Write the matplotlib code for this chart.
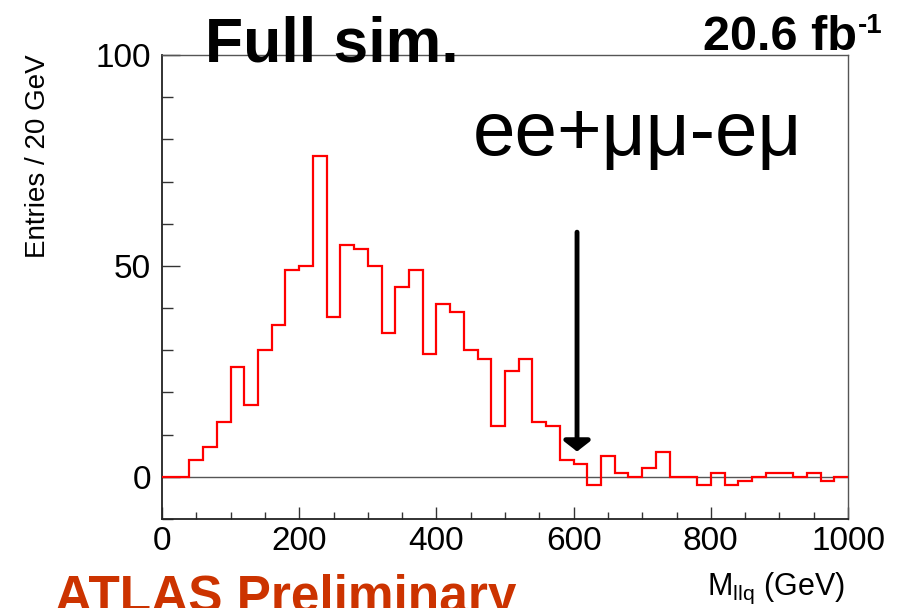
import numpy as np
import matplotlib
matplotlib.use("Agg")
import matplotlib.pyplot as plt
from matplotlib.ticker import MultipleLocator

plt.rcParams['font.family'] = ['Liberation Sans', 'DejaVu Sans']
plt.rcParams['mathtext.fontset'] = 'custom'
plt.rcParams['mathtext.rm'] = 'Liberation Sans'
plt.rcParams['mathtext.it'] = 'Liberation Sans'
plt.rcParams['mathtext.bf'] = 'Liberation Sans:bold'

# histogram ee+mumu-emu, 20 GeV bins from 0 to 1000 GeV
bin_edges = np.arange(0, 1001, 20)
entries = [0, 0, 4, 7, 13, 26, 17, 30, 36, 49,
           50, 76, 38, 55, 54, 50, 34, 45, 49, 29,
           41, 39, 30, 28, 12, 25, 28, 13, 12, 4,
           3, -2, 5, 1, 0, 2, 6, 0, 0, -2,
           1, -2, -1, 0, 1, 1, 0, 1, -1, 0]
cut_value = 605
x_ticks = [0, 200, 400, 600, 800, 1000]
y_ticks = [0, 50, 100]

W, H = 905, 608
fig = plt.figure(figsize=(W / 100, H / 100), dpi=100)
ax = fig.add_axes([162 / W, 1 - 519 / H, (848 - 162) / W, (519 - 55) / H])

ax.axhline(0, color='#555555', lw=1.0, zorder=1)
ax.stairs(entries, bin_edges, color='red', lw=1.6, zorder=3)

# cut arrow
ax.annotate('', xy=(cut_value, 6), xytext=(cut_value, 58),
            arrowprops=dict(arrowstyle='-|>,head_width=0.45,head_length=0.35',
                            lw=3.5, color='black', mutation_scale=18,
                            shrinkA=0, shrinkB=0), zorder=4)

ax.set_xlim(0, 1000)
ax.set_ylim(-10, 100)
ax.set_xticks(x_ticks)
ax.set_yticks(y_ticks)
ax.xaxis.set_minor_locator(MultipleLocator(50))
ax.yaxis.set_minor_locator(MultipleLocator(10))
ax.tick_params(axis='x', which='major', direction='in', length=9, width=1,
               color='#333333', labelsize=24, pad=5)
ax.tick_params(axis='x', which='minor', direction='in', length=5, width=1,
               color='#333333')
ax.tick_params(axis='y', which='major', direction='in', length=13, width=1,
               color='#333333', labelsize=24, pad=8)
ax.tick_params(axis='y', which='minor', direction='in', length=8, width=1,
               color='#333333')
for side in ['top', 'right']:
    ax.spines[side].set_color('#555555')
    ax.spines[side].set_linewidth(1.0)
for side in ['left', 'bottom']:
    ax.spines[side].set_color('#222222')
    ax.spines[side].set_linewidth(1.3)

fig.text(38 / W, 1 - 156 / H, 'Entries / 20 GeV', rotation=90,
         ha='center', va='center', fontsize=20)
fig.text(845 / W, 1 - 595 / H, r'M$_{\mathrm{llq}}$ (GeV)', ha='right',
         va='baseline', fontsize=22)

fig.text(205 / W, 1 - 62 / H, 'Full sim.', fontsize=45, fontweight='bold',
         ha='left', va='baseline')
fig.text(857 / W, 1 - 50 / H, '20.6 fb', fontsize=35, fontweight='bold',
         ha='right', va='baseline')
fig.text(858 / W, 1 - 33 / H, '-1', fontsize=20, fontweight='bold',
         ha='left', va='baseline')
fig.text(473 / W, 1 - 155 / H, 'ee+μμ-eμ', fontsize=55,
         ha='left', va='baseline')
fig.text(55 / W, 1 - 612 / H, 'ATLAS Preliminary', fontsize=37,
         fontweight='bold', color='#cc3300', ha='left', va='baseline')

fig.savefig('out.png', dpi=100)
